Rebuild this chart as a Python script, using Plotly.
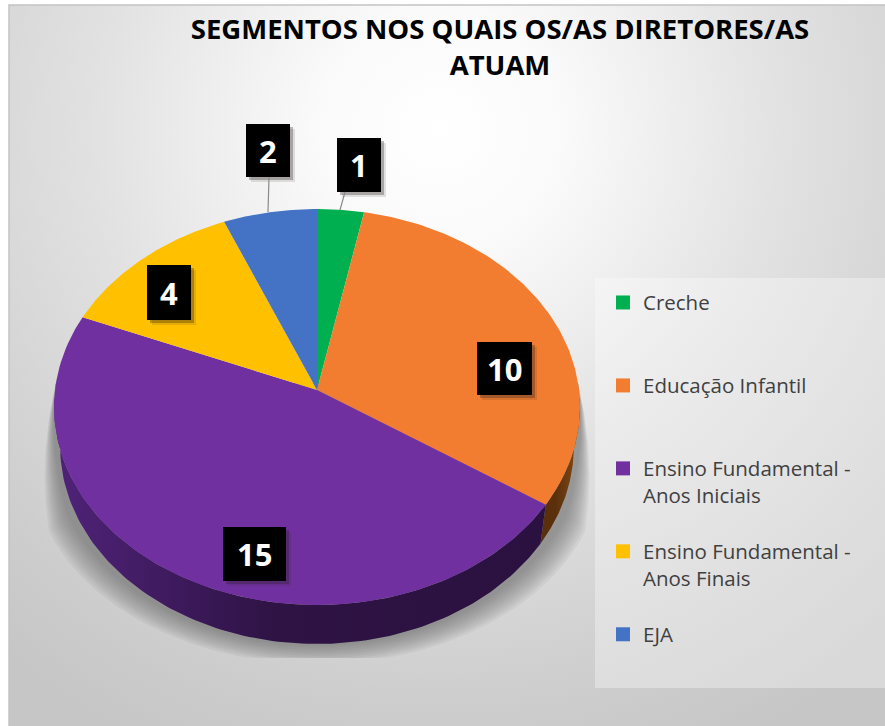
import base64
import numpy as np
import plotly.graph_objects as go

# ---- data ----
categories = ["Creche", "Educação Infantil", "Ensino Fundamental -<br>Anos Iniciais",
              "Ensino Fundamental -<br>Anos Finais", "EJA"]
values = [1, 10, 15, 4, 2]
colors = ["#00B050", "#F27D30", "#7030A0", "#FFC000", "#4472C4"]
title_text = "SEGMENTOS NOS QUAIS OS/AS DIRETORES/AS<br>ATUAM"

# ---- layout of the tilted pie (in page pixels) ----
W, H = 885, 726
CX, CY = 317, 390          # apex of the wedges
A, B, P = 262, 196.5, 0.0858  # perspective ellipse
DEPTH, SIDE_X = 39, 0.977
FONT = "Open Sans"

label_boxes = {  # value index -> x0, y0, x1, y1
    0: (337, 138, 381, 192),
    1: (477, 342, 532, 395),
    2: (223, 527, 286, 581),
    3: (147, 265, 191, 320),
    4: (246, 124, 290, 177),
}
leaders = [((345, 192), (340, 210)), ((269, 177), (268, 212))]


def rim(t0, t1, n=120, dy=0.0, sx=1.0, sy=1.0):
    th = np.radians(np.linspace(t0, t1, n))
    u, v = np.sin(th), np.cos(th)
    w = 1 + P * v
    return CX + sx * A * u / w, CY + dy - sy * B * v / w


fractions = np.array(values, dtype=float) / sum(values)
edges = np.concatenate([[0], np.cumsum(fractions) * 360])

fig = go.Figure()

# soft shadow under the pie, widening towards the bottom and cut flat below
for j in range(10):
    e = (10 - j) / 10
    deg = np.linspace(88, 272, 200)
    ramp = np.clip(np.minimum(deg - 88, 272 - deg) / 26, 0, 1)
    th = np.radians(deg)
    u, v = np.sin(th), np.cos(th)
    w = 1 + P * v
    x = CX + (1 + 0.08 * e * ramp) * A * u / w
    y = np.minimum(CY - B * v / w + (DEPTH + 20 * e) * ramp, 658)
    fig.add_trace(go.Scatter(x=x, y=y, mode="lines", fill="toself", line_width=0,
                             fillcolor="rgba(90,90,90,0.075)", hoverinfo="skip", showlegend=False))

# side wall: only the slices that face the viewer
for i, (grad0, grad1, lo, hi) in {
    1: ("#7A4414", "#5A300C", 92, edges[2]),
    2: ("#2B1140", "#4F2278", edges[2], 268),
}.items():
    xt, yt = rim(lo, hi)
    xb, yb = rim(hi, lo, dy=DEPTH, sx=SIDE_X)
    fig.add_trace(go.Scatter(
        x=np.r_[xt, xb], y=np.r_[yt, yb], mode="lines", line_width=0, fill="toself",
        fillgradient=dict(type="horizontal", start=float(xb.max()), stop=float(xb.min()),
                          colorscale=[[0, grad0], [0.55, "#2E1344" if i == 2 else grad1], [1, grad1]]),
        hoverinfo="skip", showlegend=False))

# top face
for i, (name, val, col) in enumerate(zip(categories, values, colors)):
    x, y = rim(edges[i], edges[i + 1])
    fig.add_trace(go.Scatter(x=np.r_[CX, x, CX], y=np.r_[CY, y, CY], mode="lines",
                             line_width=0, fill="toself", fillcolor=col,
                             name=name, text=f"{name}: {val}", hoverinfo="text",
                             showlegend=False))

# legend entries: every entry spans three rows so its swatch sits on the first text line
for i, (name, col) in enumerate(zip(categories, colors)):
    label = "\u00a0<br>" + (name if "<br>" in name else name + "<br>\u00a0")
    fig.add_trace(go.Scatter(x=[None], y=[None], mode="markers", name=label,
                             marker=dict(symbol="square", size=14, color=col)))

shapes = [dict(type="rect", xref="x", yref="y", x0=595, y0=278, x1=885, y1=688,
               fillcolor="rgba(255,255,255,0.33)", line_width=0, layer="below")]
annotations = []
for idx, (x0, y0, x1, y1) in label_boxes.items():
    for off, alpha in ((5, 0.12), (3, 0.3)):
        shapes.append(dict(type="rect", xref="x", yref="y", x0=x0 + off, y0=y0 + off,
                           x1=x1 + off, y1=y1 + off, fillcolor=f"rgba(40,30,30,{alpha})",
                           line_width=0, layer="above"))
    shapes.append(dict(type="rect", xref="x", yref="y", x0=x0, y0=y0, x1=x1, y1=y1,
                       fillcolor="#000000", line_width=0, layer="above"))
    annotations.append(dict(x=(x0 + x1) / 2, y=(y0 + y1) / 2, xref="x", yref="y",
                            text=f"<b>{values[idx]}</b>", showarrow=False,
                            font=dict(family=FONT, size=31, color="white")))
for (x0, y0), (x1, y1) in leaders:
    shapes.append(dict(type="line", xref="x", yref="y", x0=x0, y0=y0, x1=x1, y1=y1,
                       line=dict(color="#8a8a8a", width=1.2), layer="above"))

svg = f"""<svg xmlns='http://www.w3.org/2000/svg' width='{W}' height='{H}'>
<defs><radialGradient id='g' gradientUnits='userSpaceOnUse' cx='440' cy='130' r='680'>
<stop offset='0' stop-color='#ffffff'/><stop offset='0.18' stop-color='#fafafa'/>
<stop offset='0.5' stop-color='#e2e2e2'/><stop offset='0.85' stop-color='#cdcdcd'/>
<stop offset='1' stop-color='#c6c6c6'/></radialGradient></defs>
<rect width='{W}' height='{H}' fill='#ffffff'/>
<rect x='9' y='5' width='{W}' height='{H}' fill='url(#g)' stroke='#c4c4c4' stroke-width='1.5'/>
</svg>"""
uri = "data:image/svg+xml;base64," + base64.b64encode(svg.encode()).decode()

fig.update_layout(
    width=W, height=H, autosize=False,
    margin=dict(l=0, r=0, t=0, b=0),
    paper_bgcolor="white", plot_bgcolor="rgba(0,0,0,0)",
    xaxis=dict(range=[0, W], visible=False, fixedrange=True),
    yaxis=dict(range=[H, 0], visible=False, fixedrange=True),
    title=dict(text=f"<b>{title_text}</b>", x=500 / W, xanchor="center", y=1 - 39 / H, yanchor="top",
               font=dict(family=FONT, size=27.5, color="#000000")),
    legend=dict(x=603 / W, y=1 - 256 / H, xanchor="left", yanchor="top",
                bgcolor="rgba(0,0,0,0)", tracegroupgap=0,
                font=dict(family=FONT, size=20.5, color="#404040")),
    images=[dict(source=uri, xref="paper", yref="paper", x=0, y=1, sizex=1, sizey=1,
                 xanchor="left", yanchor="top", sizing="stretch", layer="below")],
    shapes=shapes, annotations=annotations,
)
fig.write_html("out.html", config={"displayModeBar": False},
               post_script="document.body.style.margin='0';document.body.style.overflow='hidden';")
